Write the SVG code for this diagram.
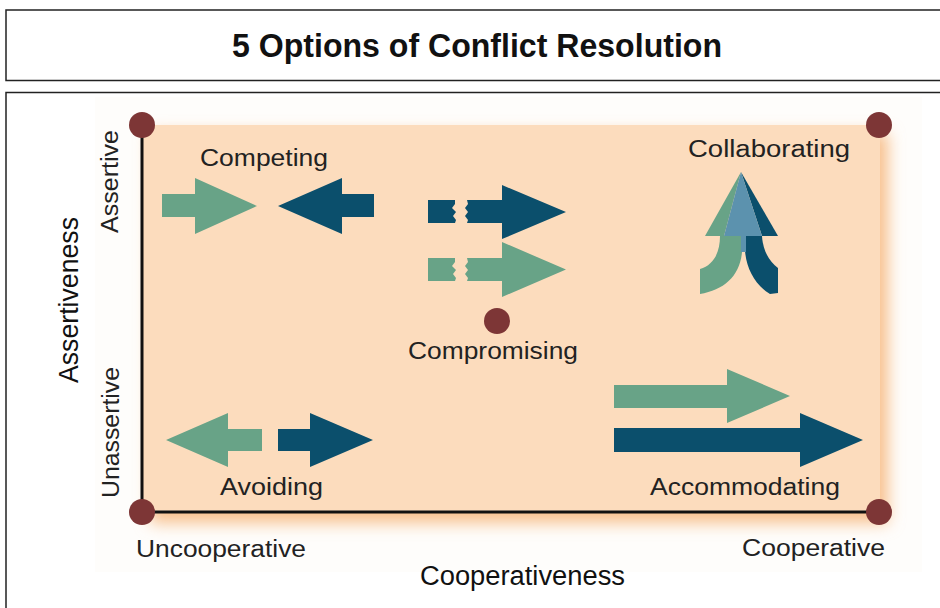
<svg xmlns="http://www.w3.org/2000/svg" width="940" height="608" viewBox="0 0 940 608">
  <defs>
    <filter id="glow" x="-10%" y="-10%" width="120%" height="130%">
      <feGaussianBlur stdDeviation="8"/>
    </filter>
    <style>
      .frame { fill: none; stroke: #222; stroke-width: 1.5; }
      .lbl { font-family: "Liberation Sans", Arial, sans-serif; font-size: 23px; fill: #222; }
      .ax { font-family: "Liberation Sans", Arial, sans-serif; font-size: 27px; fill: #111; }
      .green { fill: #68A387; }
      .dark { fill: #0B4F6C; }
      .light { fill: #5C92AE; }
      .dot { fill: #7D3636; }
      .axis { stroke: #111; stroke-width: 3; fill: none; }
    </style>
  </defs>

  <rect width="940" height="608" fill="#ffffff"/>

  <!-- title box -->
  <g id="title">
    <rect class="frame" x="6" y="10" width="940" height="70.5"/>
    <text x="477" y="57" text-anchor="middle" font-family="'Liberation Sans', Arial, sans-serif" font-weight="bold" font-size="33" fill="#111" textLength="490" lengthAdjust="spacingAndGlyphs">5 Options of Conflict Resolution</text>
  </g>

  <!-- content frame -->
  <rect class="frame" x="6" y="92.5" width="940" height="530"/>

  <!-- faint photo background -->
  <rect x="95" y="97" width="827" height="475" fill="#FEFDFB"/>

  <!-- plot area -->
  <g id="plot">
    <rect x="150" y="133" width="738" height="390" fill="#F8C08C" filter="url(#glow)"/>
    <rect x="142" y="125" width="738" height="387" fill="#FCDCBD"/>
  </g>

  <!-- axes (connectors) -->
  <g id="connectors">
    <line class="axis" x1="142" y1="125" x2="142" y2="512"/>
    <line class="axis" x1="142" y1="512" x2="879" y2="512"/>
  </g>

  <g id="corners">
    <circle class="dot" cx="142" cy="125" r="13"/>
    <circle class="dot" cx="879" cy="125" r="13"/>
    <circle class="dot" cx="142" cy="512" r="13"/>
    <circle class="dot" cx="879" cy="512" r="13"/>
  </g>

  <!-- Competing -->
  <g id="competing">
    <path class="green" d="M162,194 L195,194 L195,178 L257,206 L195,234 L195,217 L162,217 Z"/>
    <path class="dark" d="M374,194 L342,194 L342,178 L278,206 L342,234 L342,217 L374,217 Z"/>
    <text class="lbl" x="200" y="166" textLength="128" lengthAdjust="spacingAndGlyphs">Competing</text>
  </g>

  <!-- Collaborating -->
  <g id="collaborating">
    <path class="green" d="M741,172 L705,236 L724,236 Z"/>
    <path class="dark" d="M741,172 L762,236 L778,236 Z"/>
    <path class="light" d="M741,172 L724,236 L762,236 Z"/>
    <path class="green" d="M720,236 L742,236 L742,252 C740,276 724,290 700,294 L700,269 C714,265 720,252 720,236 Z"/>
    <path class="dark" d="M745,236 L762,236 C763,252 770,262 778,268 L778,293 L770,294 C755,285 746,268 745,250 Z"/>
    <rect class="light" x="741" y="235" width="5" height="17"/>
    <text class="lbl" x="688" y="157" textLength="162" lengthAdjust="spacingAndGlyphs">Collaborating</text>
  </g>

  <!-- Compromising -->
  <g id="compromising">
    <path class="dark" d="M428,200 L455,200 L455,204 L452,208 L456,212 L453,216 L456,220 L455,223 L428,223 Z"/>
    <path class="dark" d="M467,200 L502,200 L502,185 L566,212 L502,239 L502,223 L467,223 L468,220 L465,216 L468,212 L465,208 L468,204 Z"/>
    <path class="green" d="M428,258 L455,258 L455,262 L452,266 L456,270 L453,274 L456,278 L455,281 L428,281 Z"/>
    <path class="green" d="M467,258 L502,258 L502,242 L566,269.5 L502,297 L502,281 L467,281 L468,278 L465,274 L468,270 L465,266 L468,262 Z"/>
    <circle class="dot" cx="497" cy="321" r="13"/>
    <text class="lbl" x="408" y="359" textLength="170" lengthAdjust="spacingAndGlyphs">Compromising</text>
  </g>

  <!-- Avoiding -->
  <g id="avoiding">
    <path class="green" d="M262,429 L228,429 L228,413 L166,440 L228,467 L228,451 L262,451 Z"/>
    <path class="dark" d="M278,429 L310,429 L310,413 L373,440 L310,467 L310,451 L278,451 Z"/>
    <text class="lbl" x="220" y="495" textLength="103" lengthAdjust="spacingAndGlyphs">Avoiding</text>
  </g>

  <!-- Accommodating -->
  <g id="accommodating">
    <path class="green" d="M614,385 L727,385 L727,369 L790,396 L727,423 L727,408 L614,408 Z"/>
    <path class="dark" d="M614,428 L800,428 L800,413 L863,440 L800,467 L800,452 L614,452 Z"/>
    <text class="lbl" x="650" y="495" textLength="190" lengthAdjust="spacingAndGlyphs">Accommodating</text>
  </g>

  <!-- axis labels -->
  <g id="axis-labels">
    <text class="lbl" x="136" y="557" textLength="170" lengthAdjust="spacingAndGlyphs">Uncooperative</text>
    <text class="lbl" x="742" y="556" textLength="143" lengthAdjust="spacingAndGlyphs">Cooperative</text>
    <text class="lbl" transform="translate(118,233) rotate(-90)" x="0" y="0" textLength="103" lengthAdjust="spacingAndGlyphs">Assertive</text>
    <text class="lbl" transform="translate(119,498) rotate(-90)" x="0" y="0" textLength="131" lengthAdjust="spacingAndGlyphs">Unassertive</text>
    <text class="ax" x="420" y="585" textLength="205" lengthAdjust="spacingAndGlyphs">Cooperativeness</text>
    <text class="ax" transform="translate(78,383) rotate(-90)" x="0" y="0" textLength="166" lengthAdjust="spacingAndGlyphs">Assertiveness</text>
  </g>
</svg>
